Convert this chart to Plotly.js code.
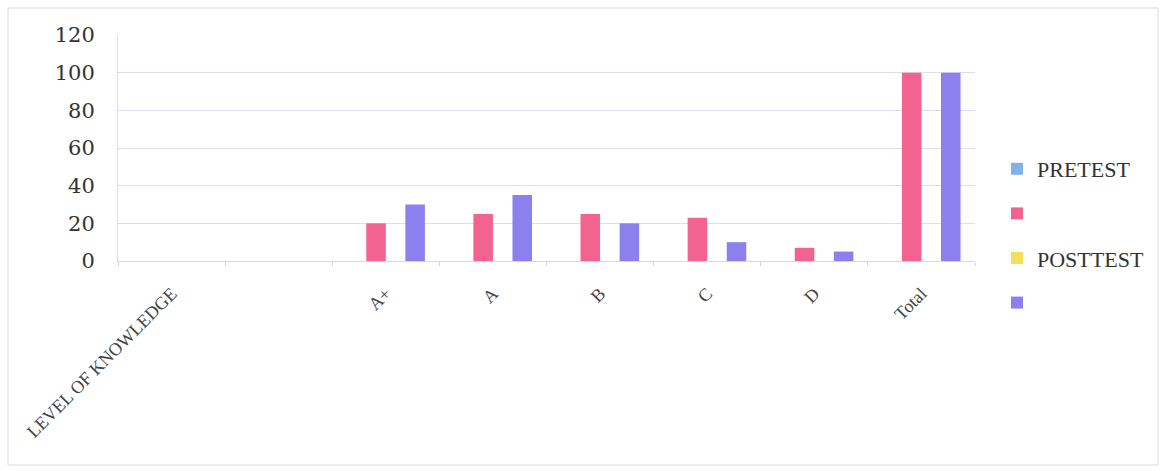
<!DOCTYPE html>
<html>
<head>
<meta charset="utf-8">
<script src="https://cdn.plot.ly/plotly-3.0.1.min.js"></script>
<style>html,body{margin:0;padding:0;background:#fff;}#chart{width:1165px;height:471px;}</style>
</head>
<body>
<div id="chart"></div>
<script>
// Categories (second one is a blank label in the original)
const categories = ["LEVEL OF KNOWLEDGE", " ", "A+", "A", "B", "C", "D", "Total"];
// Series names as shown in the legend
const seriesNames = ["PRETEST", "", "POSTTEST", ""];
// Values (PRETEST and POSTTEST header series are empty in the original)
const pretestHeader = [null, null, null, null, null, null, null, null];
const pretestValues = [null, null, 20, 25, 25, 23, 7, 100];
const posttestHeader = [null, null, null, null, null, null, null, null];
const posttestValues = [null, null, 30, 35, 20, 10, 5, 100];
const seriesColors = ["#7fb3e8", "#f2638f", "#f3df5a", "#8b80ee"];

const allValues = [pretestHeader, pretestValues, posttestHeader, posttestValues];
const traces = allValues.map((vals, i) => ({
  type: "bar",
  name: seriesNames[i] === "" ? " " : seriesNames[i],
  x: categories,
  y: vals,
  marker: {color: seriesColors[i]},
  legendgroup: "g" + i,
  hoverinfo: "none"
}));

const L = 118, R = 975, T = 35, B = 261;
const PW = R - L, PH = B - T;

const layout = {
  width: 1165, height: 471,
  margin: {l: L, r: 1165 - R, t: T, b: 471 - B},
  paper_bgcolor: "#fff", plot_bgcolor: "#fff",
  barmode: "group", bargap: 0.27, bargroupgap: 0,
  font: {family: "Liberation Serif, DejaVu Serif, serif", color: "#333"},
  xaxis: {
    type: "category",
    tickangle: -45,
    tickfont: {size: 18, color: "#444"},
    showgrid: false,
    showline: true, linecolor: "#d8d4ea", linewidth: 1,
    ticks: "outside", tickson: "boundaries", ticklen: 4, tickcolor: "#d8d4ea",
    zeroline: false,
    ticklabelstandoff: 14
  },
  yaxis: {
    range: [0, 120], dtick: 20,
    tickfont: {size: 21, color: "#333", family: "DejaVu Serif, serif"},
    showgrid: true, gridcolor: "#e0dcef", gridwidth: 1,
    showline: true, linecolor: "#e0dcef",
    zeroline: false,
    ticklabelstandoff: 18
  },
  legend: {
    x: (997 - L) / PW, xanchor: "left", y: (B - 148) / PH, yanchor: "top",
    font: {size: 22, color: "#333"},
    traceorder: "grouped", tracegroupgap: 13,
    itemwidth: 30
  },
  shapes: [{
    type: "rect", xref: "paper", yref: "paper",
    x0: (8 - L) / PW, x1: (1158 - L) / PW, y0: -(465 - B) / PH, y1: (B - 8) / PH,
    line: {color: "#dcdcdc", width: 1}, fillcolor: "rgba(0,0,0,0)"
  }]
};

Plotly.newPlot("chart", traces, layout, {staticPlot: true});
</script>
</body>
</html>
